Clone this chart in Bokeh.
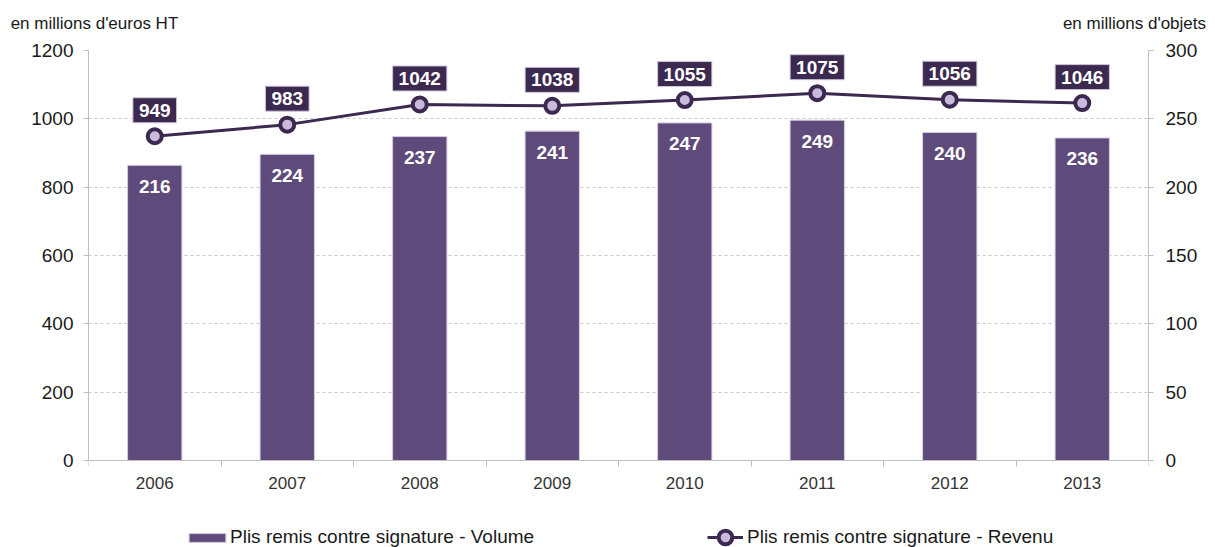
from bokeh.plotting import figure
from bokeh.models import (Range1d, FactorRange, LinearAxis, CategoricalAxis, FixedTicker,
                          CustomJSTickFormatter, Label, LabelSet, ColumnDataSource, Legend, LegendItem)
from bokeh.core.properties import value
from bokeh.embed import file_html
from bokeh.resources import INLINE

# ---- data ----
years = ["2006", "2007", "2008", "2009", "2010", "2011", "2012", "2013"]
volume = [216, 224, 237, 241, 247, 249, 240, 236]          # millions d'objets (right axis)
revenue = [949, 983, 1042, 1038, 1055, 1075, 1056, 1046]   # millions d'euros HT (left axis)
left_ticks = [0, 200, 400, 600, 800, 1000, 1200]
right_ticks = [0, 50, 100, 150, 200, 250, 300]
left_title = "en millions d'euros HT"
right_title = "en millions d'objets"
bar_name = "Plis remis contre signature - Volume"
line_name = "Plis remis contre signature - Revenu"

# ---- layout (pixels) ----
W, H = 1215, 547
LEFT, RIGHT, TOP = 88, 67, 50
PLOT_H = 410              # pixels between value 0 and the top tick
BELOW = H - TOP - PLOT_H  # room under the zero line, kept inside the frame (legend lives there)

# ---- style ----
FONT = "Liberation Sans"
BAR = "#5E4A7B"
DARK = "#3B2950"
LIGHT = "#C9BADA"
AXIS = "#BFBFBF"
TXT = "#1A1A1A"

src = ColumnDataSource(dict(year=years, volume=volume, revenue=revenue,
                            vtxt=[str(v) for v in volume]))

lmax, rmax = left_ticks[-1], right_ticks[-1]
p = figure(x_range=FactorRange(*years),
           y_range=Range1d(-lmax * BELOW / PLOT_H, lmax),
           frame_width=W - LEFT - RIGHT, frame_height=H - TOP,
           min_border_left=LEFT, min_border_right=RIGHT, min_border_top=TOP, min_border_bottom=0,
           x_axis_location=None, toolbar_location=None, output_backend="svg",
           outline_line_color=None, background_fill_color="white", border_fill_color="white")
p.extra_y_ranges = {"right": Range1d(-rmax * BELOW / PLOT_H, rmax)}

for g in p.grid:
    if g.dimension == 0:
        g.visible = False

# left axis
ya = p.yaxis[0]
ya.ticker = FixedTicker(ticks=left_ticks)
ya.bounds = (left_ticks[0], lmax)
ya.axis_line_color = AXIS
ya.major_tick_line_color = AXIS
ya.major_tick_out = 5
ya.major_tick_in = 0
ya.minor_tick_line_color = None
ya.major_label_standoff = 10
ya.major_label_text_font = FONT
ya.major_label_text_font_size = "19px"
ya.major_label_text_color = TXT

p.ygrid.ticker = FixedTicker(ticks=left_ticks[1:])
p.ygrid.grid_line_color = "#C8C8C8"
p.ygrid.grid_line_dash = "3 3"

# right axis
ra = LinearAxis(y_range_name="right", ticker=FixedTicker(ticks=right_ticks),
                bounds=(right_ticks[0], rmax),
                axis_line_color=AXIS, major_tick_line_color=AXIS, major_tick_out=5, major_tick_in=0,
                minor_tick_line_color=None, major_label_standoff=12,
                major_label_text_font=FONT, major_label_text_font_size="19px",
                major_label_text_color=TXT)
p.add_layout(ra, "right")

# x axes drawn on the zero line: ticks at category boundaries, then year labels
tick_axis = LinearAxis(ticker=FixedTicker(ticks=list(range(len(years) + 1))),
                       formatter=CustomJSTickFormatter(code="return ''"),
                       fixed_location=0,
                       axis_line_color=AXIS, major_tick_line_color=AXIS,
                       major_tick_out=6, major_tick_in=0, minor_tick_line_color=None,
                       major_label_standoff=0, major_label_text_font_size="0px")
p.add_layout(tick_axis, "below")
cat_axis = CategoricalAxis(fixed_location=0, axis_line_color=None, major_tick_line_color=None,
                           minor_tick_line_color=None, major_label_standoff=10,
                           major_label_text_font=FONT, major_label_text_font_size="17px",
                           major_label_text_color="#333333")
p.add_layout(cat_axis, "below")

# unit captions above the plot (an axis without line/ticks carrying the two texts)
cap_axis = LinearAxis(ticker=FixedTicker(ticks=[0.045, len(years) - 0.106]),
                      formatter=CustomJSTickFormatter(args=dict(labels=[left_title, right_title]),
                                                      code="return labels[index];"),
                      axis_line_color=None, major_tick_line_color=None, minor_tick_line_color=None,
                      major_tick_out=0, major_tick_in=0, major_label_standoff=18,
                      major_label_text_font=FONT, major_label_text_font_size="17px",
                      major_label_text_color=TXT)
p.add_layout(cap_axis, "above")

# bars (right axis)
bars = p.vbar(x="year", top="volume", width=0.41, source=src, y_range_name="right",
              fill_color=BAR, line_color="#D6CCE0", line_width=1)

# line (left axis)
line_r = p.line(x="year", y="revenue", source=src, line_color=DARK, line_width=3)
pts = p.scatter(x="year", y="revenue", source=src, size=14, fill_color=LIGHT,
                line_color=DARK, line_width=4)

# bar labels
p.add_layout(LabelSet(x="year", y="volume", text="vtxt", source=src, y_range_name="right",
                      y_offset=-21, text_align="center", text_baseline="middle",
                      text_color="white", text_font=value(FONT), text_font_style="bold",
                      text_font_size="19px"))

# line value boxes (x in the factor range's synthetic coordinates: centre of factor i is i + 0.5)
for i, rv in enumerate(revenue):
    p.add_layout(Label(x=i + 0.5, y=rv, text=str(rv), y_offset=26, text_align="center",
                       text_baseline="middle", text_color="white", text_font=FONT,
                       text_font_style="bold", text_font_size="19px",
                       background_fill_color=DARK, border_line_color="#CFC6DA",
                       border_line_width=1, padding=6))

# legends (inside the frame, under the zero line)
common = dict(padding=0, margin=0, spacing=0, border_line_color=None, background_fill_alpha=0,
              label_text_font=FONT, label_text_font_size="19px", label_text_color=TXT,
              label_height=10)
leg1 = Legend(items=[LegendItem(label=bar_name, renderers=[bars])], location=(96, -1),
              glyph_width=46, glyph_height=11, label_standoff=0, **common)
leg2 = Legend(items=[LegendItem(label=line_name, renderers=[line_r, pts])], location=(619, -7),
              glyph_width=36, glyph_height=34, label_standoff=4, **common)
p.add_layout(leg1)
p.add_layout(leg2)

open("out.html", "w").write(file_html(p, INLINE))
